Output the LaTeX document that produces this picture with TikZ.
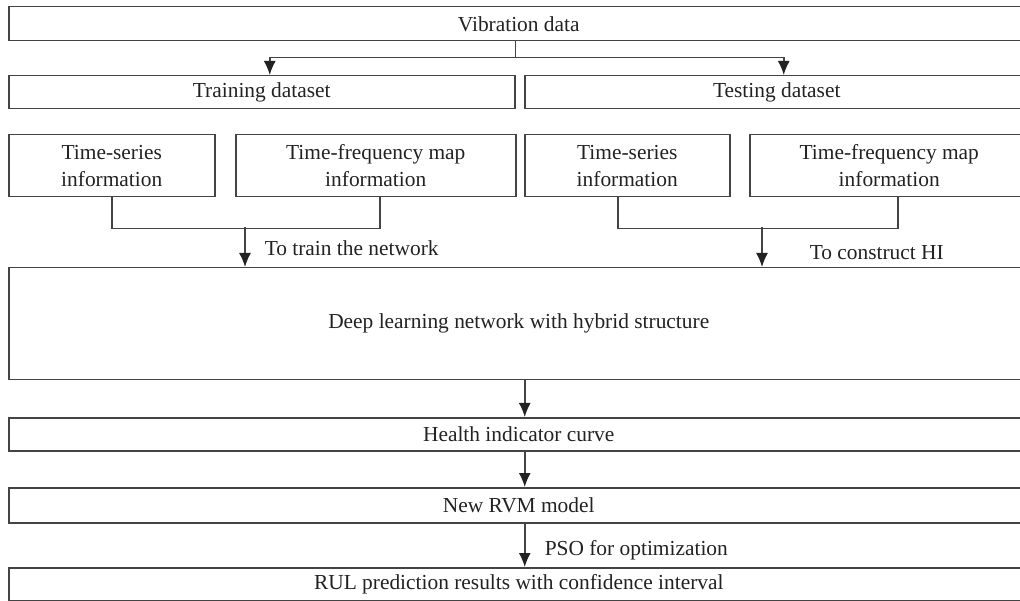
\documentclass[tikz,border=0pt]{standalone}
\usepackage{fontspec}
\setmainfont{Liberation Serif}
\usetikzlibrary{arrows.meta}

\definecolor{lineGray}{RGB}{68,68,68}
\definecolor{textGray}{RGB}{34,34,34}

\begin{document}
\begin{tikzpicture}[x=1pt,y=-1pt,line width=1.5pt,lineGray,
  box/.style={draw,rectangle,inner sep=0pt,anchor=north west,align=center,
    text=textGray,font=\fontsize{21.4}{27}\selectfont},
  lbl/.style={anchor=west,inner sep=0pt,text=textGray,font=\fontsize{21.4}{27}\selectfont},
  arr/.style={-{Latex[length=14pt,width=12pt,color=textGray]}}]

\useasboundingbox (0,0) rectangle (1020,601);

\node [box,minimum width=1020,minimum height=34] (vib) at (8,6) {Vibration data};

\node [box,minimum width=506,minimum height=33] (train) at (8,75) {Training dataset};
\node [box,minimum width=504,minimum height=33] (test) at (524,75) {Testing dataset};

\node [box,minimum width=206,minimum height=62] (ts1) at (8,134) {Time-series\\information};
\node [box,minimum width=280,minimum height=62] (tf1) at (235,134) {Time-frequency map\\information};
\node [box,minimum width=205,minimum height=62] (ts2) at (524,134) {Time-series\\information};
\node [box,minimum width=279,minimum height=62] (tf2) at (749,134) {Time-frequency map\\information};

\node [box,minimum width=1020,minimum height=112] (deep) at (8,267) {Deep learning network with hybrid structure};
\node [box,minimum width=1020,minimum height=33] (health) at (8,417) {Health indicator curve};
\node [box,minimum width=1020,minimum height=35] (rvm) at (8,487) {New RVM model};
\node [box,minimum width=1020,minimum height=33] (rul) at (8,567) {RUL prediction results with confidence interval};

% split of the data
\draw  (vib.south -| train.east)  --  ++(0,16) coordinate (split);
\draw[arr]  (split)  -|  ([xshift=8]train.north);
\draw[arr]  (split)  -|  ([xshift=7]test.north);

% both inputs go into the network
\draw  (ts1.south)  --  ++(0,31)  -|  ([xshift=4]tf1.south);
\coordinate (m1) at (245,227);
\draw[arr]  (m1)  --  (m1 |- deep.north);

\draw  ([xshift=-9.5]ts2.south)  --  ++(0,31)  -|  ([xshift=8.5]tf2.south);
\coordinate (m2) at (762,227);
\draw[arr]  (m2)  --  (m2 |- deep.north);

% main chain
\draw[arr]  ([xshift=6]deep.south)  --  ([xshift=6]health.north);
\draw[arr]  ([xshift=6]health.south)  --  ([xshift=6]rvm.north);
\draw[arr]  ([xshift=6]rvm.south)  --  ([xshift=6]rul.north);

\node [lbl] (trainlbl) at (264,248) {To train the network};
\node [lbl] (hilbl) at (809,253) {To construct HI};
\node [lbl] (psolbl) at (544,550) {PSO for optimization};

\end{tikzpicture}
\end{document}
